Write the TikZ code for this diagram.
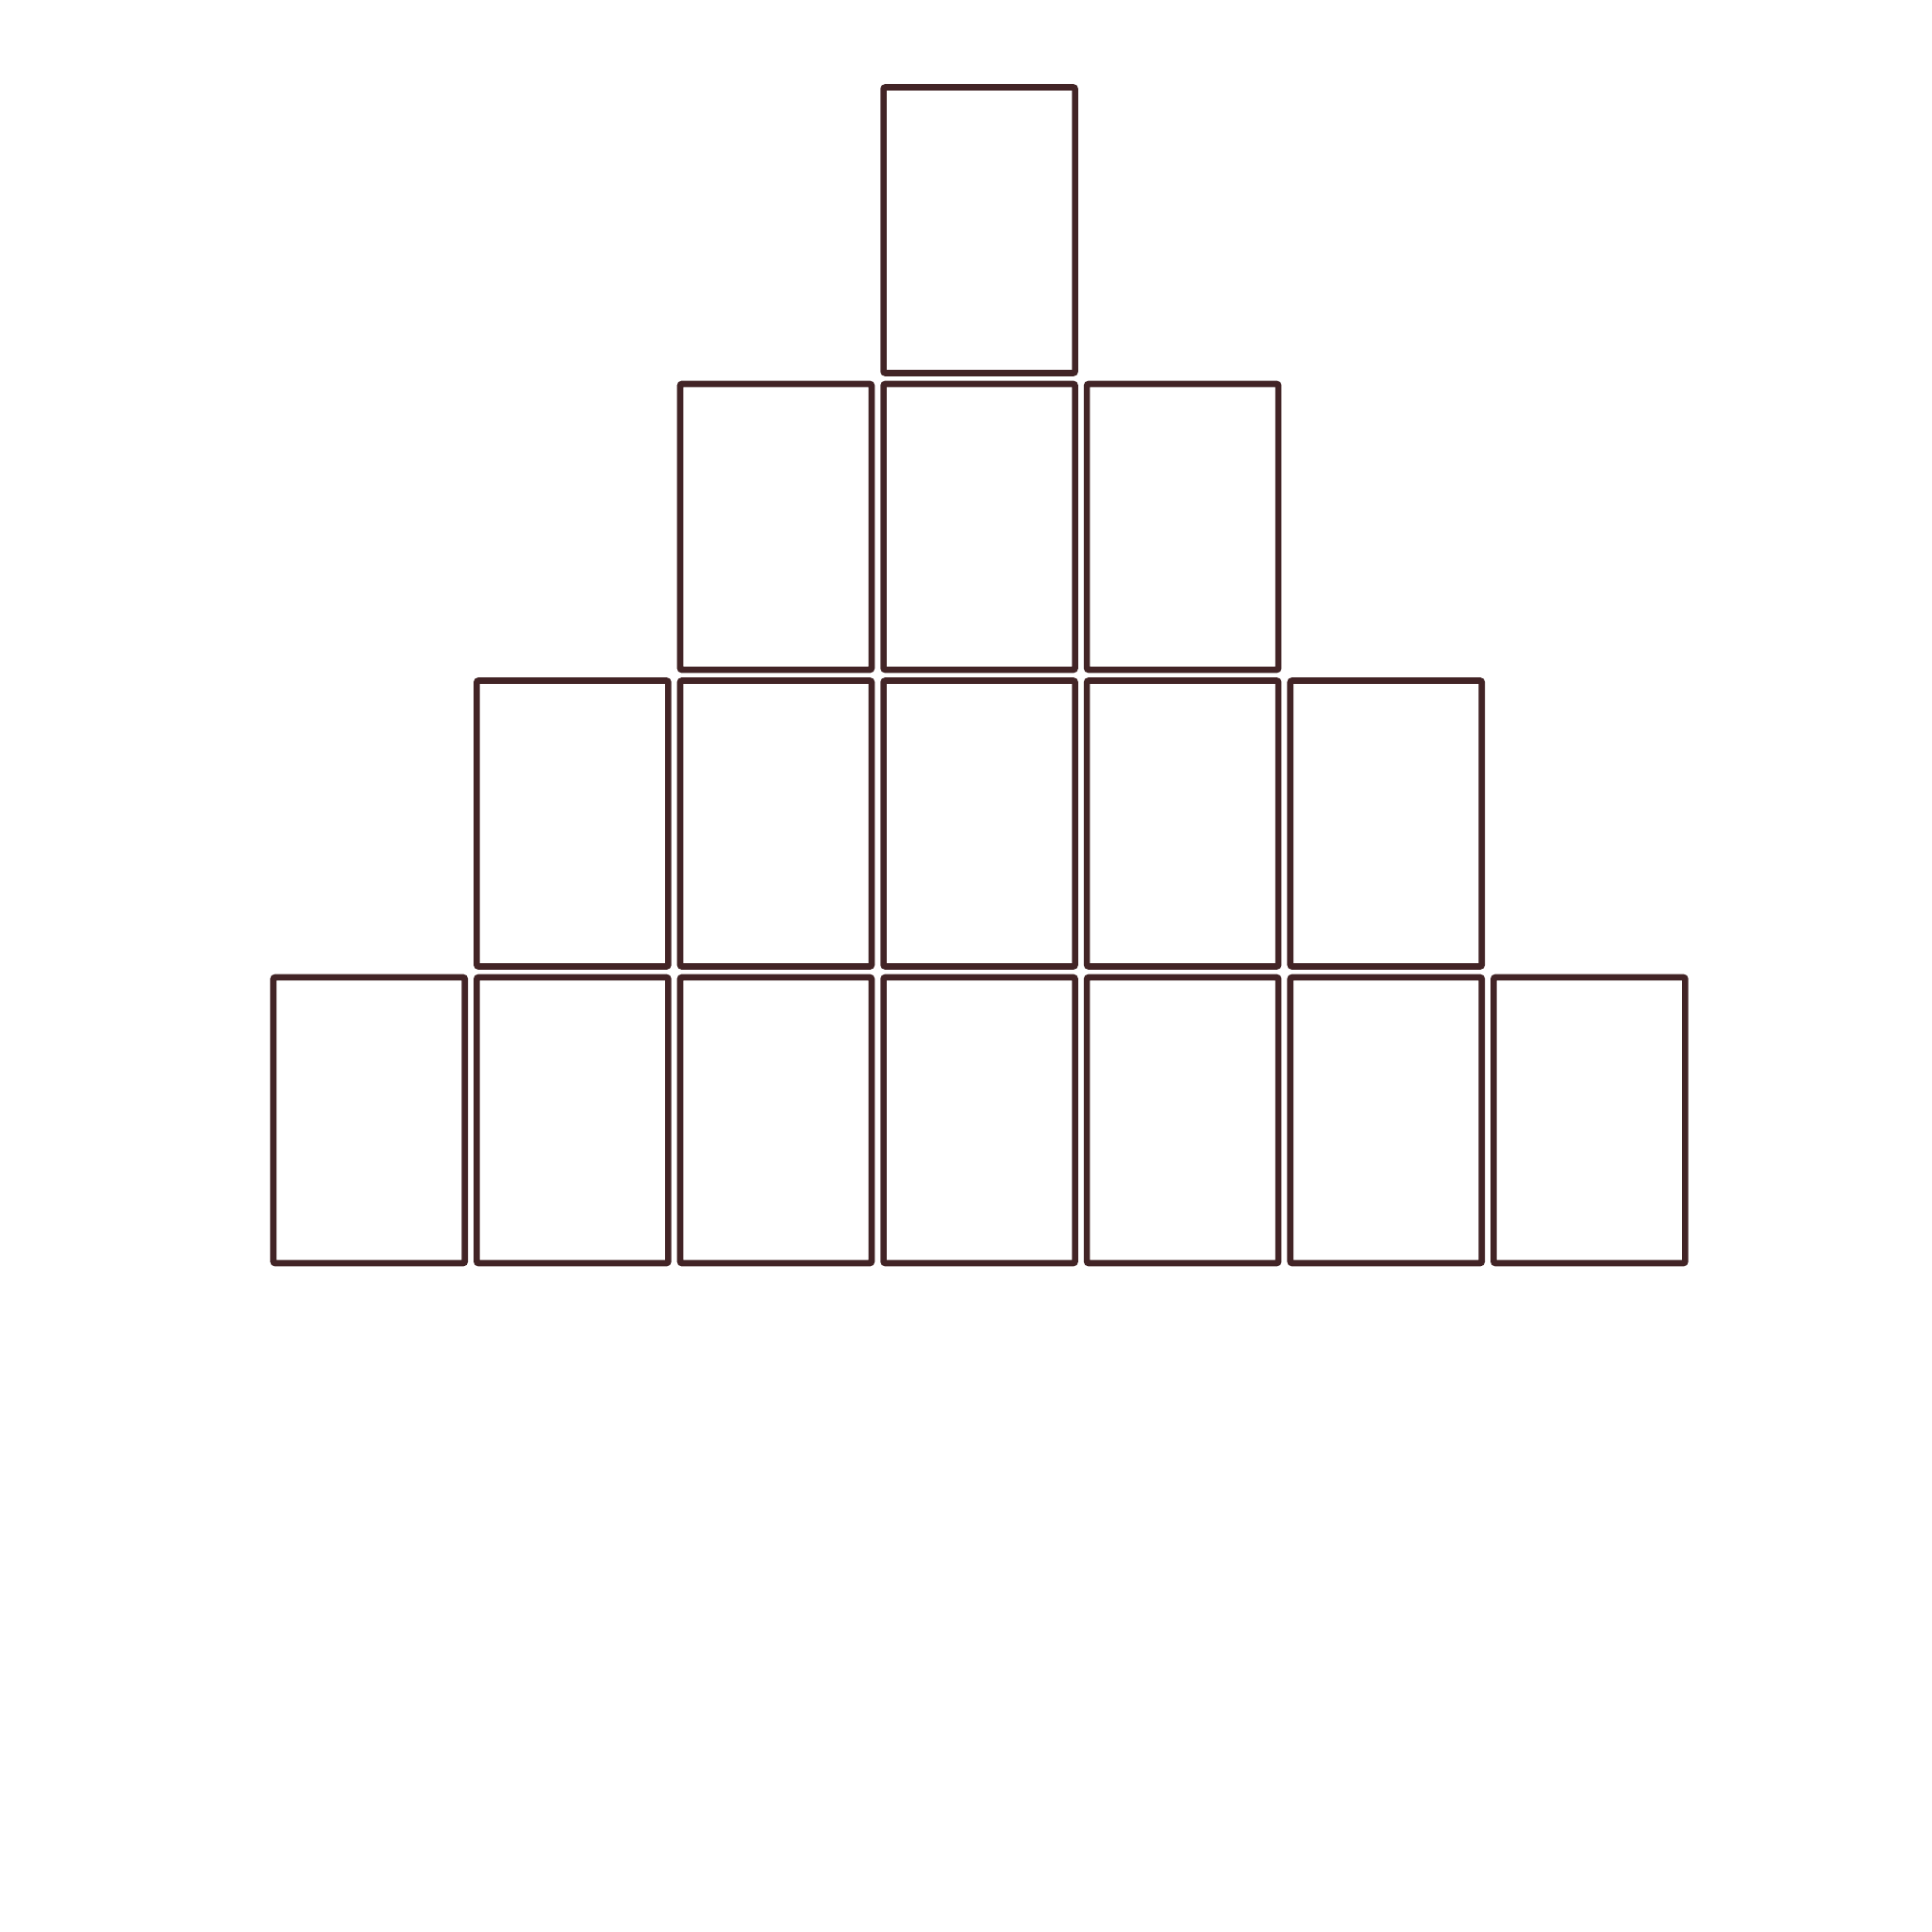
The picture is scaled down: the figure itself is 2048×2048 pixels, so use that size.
\documentclass[tikz,border=0pt]{standalone}
\definecolor{boxline}{RGB}{66,36,38}
\begin{document}
\begin{tikzpicture}[x=0.5pt,y=-0.5pt,
  cardbox/.style={draw=boxline,line width=3.3pt,rounded corners=1pt,
    minimum width=101.5pt,minimum height=151.5pt,inner sep=0pt,outer sep=0pt}]
\useasboundingbox (0,0) rectangle (2048,2048);
\foreach \r in {1,...,4}{
  \pgfmathtruncatemacro{\cmin}{5-\r}
  \pgfmathtruncatemacro{\cmax}{3+\r}
  \foreach \c in {\cmin,...,\cmax}{
    \node[cardbox] (b\r-\c) at ({391.25+(\c-1)*215.6},{244+(\r-1)*314.5}) {};
  }
}
\end{tikzpicture}
\end{document}
